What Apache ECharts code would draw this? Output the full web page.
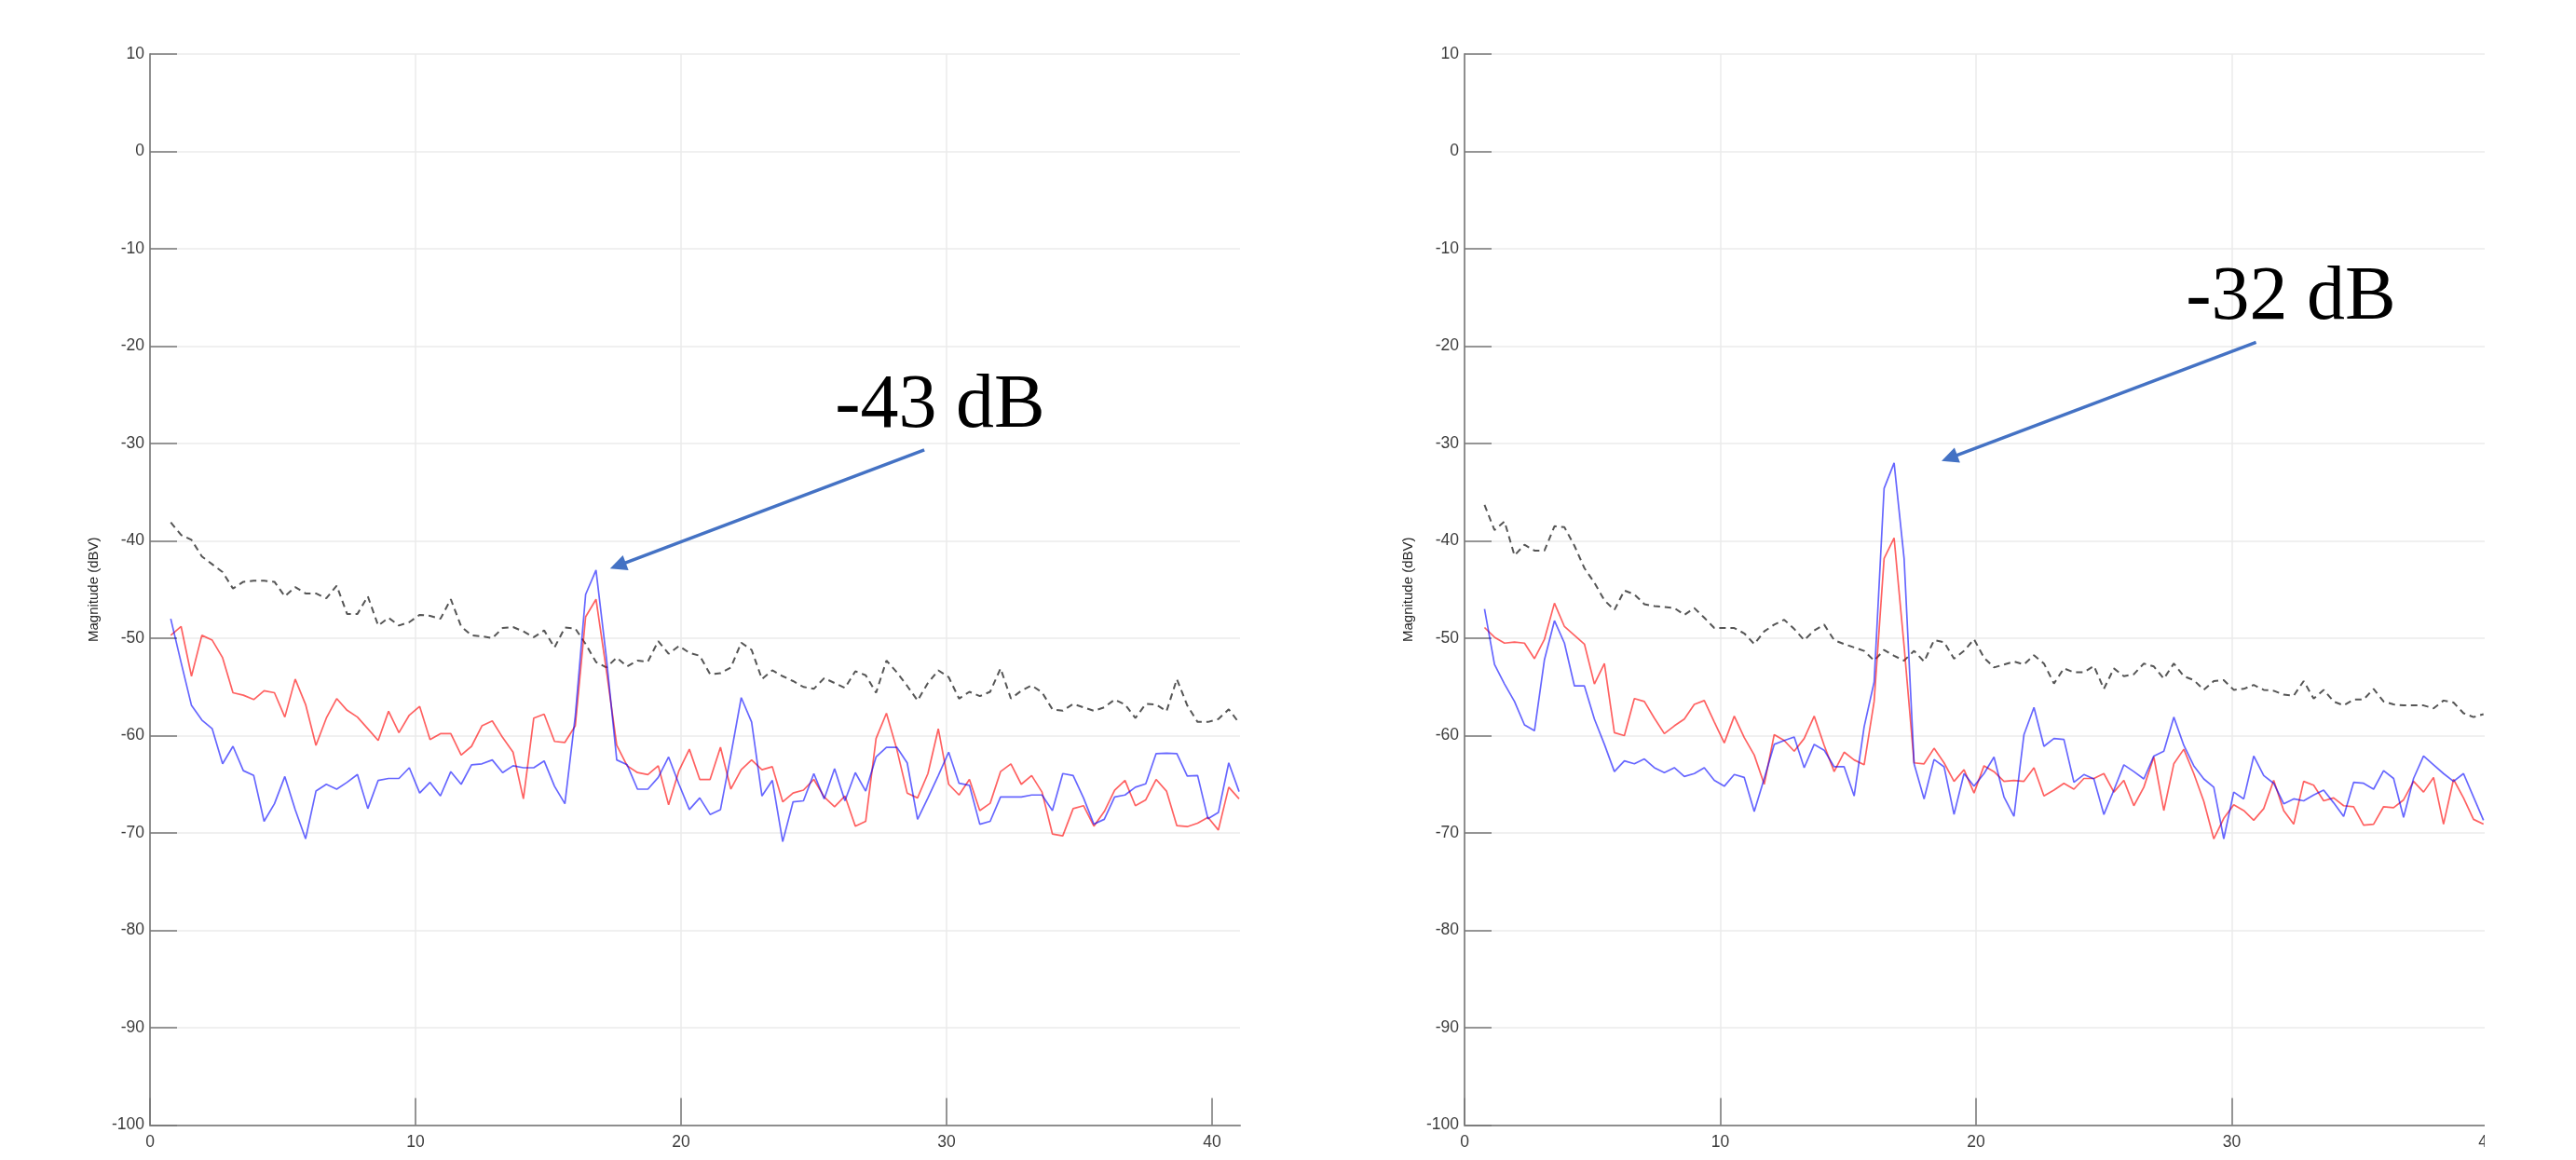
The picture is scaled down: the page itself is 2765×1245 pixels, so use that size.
<!DOCTYPE html>
<html><head><meta charset="utf-8">
<script src="https://cdn.jsdelivr.net/npm/echarts@6/dist/echarts.min.js"></script>
<style>html,body{margin:0;padding:0;background:#fff}#c{width:2765px;height:1245px}</style>
</head><body><div id="c"></div>
<script>
// FFT bin spacing (Hz) and first plotted bin
const binWidth = 0.390625;
const firstBin = 2;
const xTickValues = [0, 10, 20, 30, 40];
const yAxisName = 'Magnitude (dBV)';
const leftPeakLabel = '-43 dB';
const rightPeakLabel = '-32 dB';

// Left panel
const leftRed = [-49.7,-48.8,-53.9,-49.7,-50.2,-52.0,-55.6,-55.85,-56.3,-55.4,-55.6,-58.1,-54.2,-56.8,-61.0,-58.2,-56.2,-57.4,-58.1,-59.3,-60.5,-57.5,-59.7,-57.9,-57.0,-60.4,-59.8,-59.8,-62.0,-61.1,-59.0,-58.5,-60.2,-61.7,-66.5,-58.2,-57.8,-60.6,-60.7,-59.0,-47.8,-46.0,-53.3,-61.0,-63.1,-63.8,-64.0,-63.1,-67.1,-63.6,-61.4,-64.5,-64.5,-61.2,-65.5,-63.5,-62.5,-63.5,-63.2,-66.8,-65.9,-65.6,-64.5,-66.3,-67.3,-66.2,-69.3,-68.8,-60.3,-57.7,-61.4,-65.9,-66.4,-63.9,-59.3,-65.0,-66.1,-64.5,-67.7,-66.95,-63.7,-62.9,-65.0,-64.1,-65.8,-70.1,-70.3,-67.5,-67.2,-69.3,-67.8,-65.6,-64.6,-67.2,-66.6,-64.5,-65.7,-69.25,-69.35,-69.0,-68.4,-69.7,-65.3,-66.5];
const leftBlue = [-48.0,-52.5,-56.9,-58.4,-59.3,-62.9,-61.1,-63.6,-64.1,-68.8,-67.0,-64.2,-67.6,-70.6,-65.7,-65.0,-65.5,-64.8,-64.0,-67.5,-64.6,-64.4,-64.4,-63.3,-65.9,-64.8,-66.2,-63.7,-65.0,-63.0,-62.9,-62.5,-63.8,-63.1,-63.3,-63.3,-62.6,-65.2,-67.0,-58.0,-45.5,-43.0,-52.0,-62.5,-63.0,-65.5,-65.5,-64.3,-62.2,-65.0,-67.6,-66.4,-68.1,-67.6,-62.0,-56.1,-58.6,-66.2,-64.6,-70.9,-66.8,-66.7,-63.9,-66.5,-63.4,-66.7,-63.8,-65.7,-62.2,-61.2,-61.2,-62.8,-68.6,-66.4,-64.1,-61.7,-64.9,-65.1,-69.1,-68.8,-66.3,-66.3,-66.3,-66.1,-66.1,-67.7,-63.9,-64.1,-66.4,-69.1,-68.6,-66.3,-66.1,-65.3,-64.95,-61.85,-61.8,-61.85,-64.15,-64.1,-68.55,-67.9,-62.8,-65.75];
const leftRef = [-38.1,-39.4,-39.9,-41.6,-42.4,-43.2,-44.9,-44.2,-44.1,-44.1,-44.2,-45.7,-44.75,-45.4,-45.4,-45.9,-44.6,-47.5,-47.5,-45.7,-48.7,-47.9,-48.7,-48.35,-47.6,-47.7,-48.0,-46.0,-48.8,-49.7,-49.8,-50.0,-48.95,-48.85,-49.3,-49.9,-49.2,-50.95,-48.9,-49.0,-50.6,-52.45,-53.0,-52.0,-52.9,-52.3,-52.4,-50.3,-51.6,-50.8,-51.5,-51.8,-53.7,-53.6,-53.0,-50.45,-51.2,-54.2,-53.3,-53.9,-54.4,-55.0,-55.2,-54.1,-54.6,-55.1,-53.4,-53.8,-55.6,-52.3,-53.5,-54.9,-56.4,-54.6,-53.3,-54.0,-56.2,-55.5,-55.95,-55.5,-53.1,-56.2,-55.4,-54.85,-55.55,-57.3,-57.45,-56.75,-57.1,-57.45,-57.1,-56.3,-56.8,-58.2,-56.75,-56.8,-57.5,-54.2,-56.9,-58.6,-58.6,-58.3,-57.3,-58.7];

// Right panel
const rightRed = [-48.9,-49.9,-50.5,-50.4,-50.5,-52.1,-50.1,-46.4,-48.8,-49.7,-50.6,-54.7,-52.6,-59.7,-60.0,-56.2,-56.5,-58.2,-59.8,-59.0,-58.3,-56.8,-56.4,-58.6,-60.75,-58.0,-60.2,-62.0,-65.0,-59.9,-60.5,-61.6,-60.3,-58.0,-61.0,-63.7,-61.7,-62.5,-63.0,-56.5,-41.8,-39.7,-50.8,-62.8,-62.9,-61.3,-62.8,-64.7,-63.5,-65.9,-63.1,-63.7,-64.7,-64.6,-64.7,-63.3,-66.2,-65.6,-64.9,-65.5,-64.4,-64.4,-63.9,-65.8,-64.6,-67.2,-65.3,-62.2,-67.7,-62.9,-61.4,-63.9,-66.75,-70.6,-68.5,-67.1,-67.7,-68.7,-67.5,-64.6,-67.7,-69.1,-64.7,-65.1,-66.7,-66.4,-67.2,-67.3,-69.2,-69.1,-67.3,-67.4,-66.6,-64.7,-65.8,-64.3,-69.1,-64.5,-66.4,-68.6,-69.1];
const rightBlue = [-47.0,-52.7,-54.7,-56.5,-58.9,-59.5,-52.2,-48.2,-50.5,-54.9,-54.9,-58.3,-60.9,-63.7,-62.6,-62.9,-62.4,-63.3,-63.8,-63.3,-64.2,-63.9,-63.3,-64.6,-65.2,-64.0,-64.3,-67.8,-64.4,-60.9,-60.5,-60.15,-63.3,-60.9,-61.5,-63.2,-63.2,-66.2,-59.1,-54.5,-34.6,-32.0,-41.8,-62.9,-66.5,-62.45,-63.2,-68.1,-63.9,-65.2,-63.9,-62.2,-66.3,-68.3,-59.9,-57.1,-61.1,-60.3,-60.4,-64.8,-64.0,-64.45,-68.1,-65.6,-63.0,-63.7,-64.45,-62.1,-61.6,-58.1,-61.0,-63.1,-64.45,-65.3,-70.6,-65.8,-66.5,-62.1,-64.1,-64.9,-67.0,-66.5,-66.7,-66.1,-65.6,-66.9,-68.3,-64.8,-64.9,-65.5,-63.6,-64.4,-68.4,-64.4,-62.1,-63.0,-63.9,-64.7,-63.9,-66.3,-68.7];
const rightRef = [-36.3,-38.9,-38.0,-41.5,-40.4,-41.0,-41.0,-38.5,-38.6,-40.5,-42.8,-44.3,-46.1,-47.1,-45.1,-45.5,-46.5,-46.7,-46.8,-46.9,-47.6,-46.9,-47.9,-48.95,-48.95,-48.95,-49.5,-50.6,-49.3,-48.6,-48.1,-49.05,-50.2,-49.2,-48.6,-50.2,-50.6,-50.95,-51.3,-52.3,-51.2,-51.8,-52.3,-51.3,-52.4,-50.2,-50.4,-52.1,-51.3,-50.1,-52.0,-53.0,-52.7,-52.4,-52.7,-51.75,-52.6,-54.65,-53.1,-53.5,-53.5,-52.85,-55.2,-53.1,-53.9,-53.7,-52.6,-52.9,-54.15,-52.6,-53.9,-54.3,-55.3,-54.4,-54.3,-55.3,-55.2,-54.8,-55.3,-55.4,-55.8,-55.9,-54.4,-56.2,-55.3,-56.5,-56.9,-56.3,-56.3,-55.2,-56.5,-56.8,-56.9,-56.9,-56.9,-57.2,-56.4,-56.6,-57.7,-58.1,-57.8];

// Annotation anchors (data coordinates)
const leftLabelAt = [29.75, -26.2];
const leftArrowFrom = [29.16, -30.65];
const leftArrowTo = [17.62, -42.55];
const rightLabelAt = [32.31, -15.15];
const rightArrowFrom = [30.95, -19.6];
const rightArrowTo = [18.96, -31.5];

function toPairs(vals) {
  return vals.map((v, k) => [(firstBin + k) * binWidth, v]);
}

const chart = echarts.init(document.getElementById('c'), null, {renderer: 'canvas'});

const axisGray = '#8e8e8e';
const textGray = '#3c3c3c';
const gridGray = '#ebebeb';
const tickFont = 'Liberation Sans, Arial, sans-serif';

function xAxisCfg(gi, max) {
  return {
    type: 'value', gridIndex: gi, min: 0, max: max, interval: 10,
    axisLine: {show: true, onZero: false, lineStyle: {color: axisGray, width: 2}},
    axisTick: {show: true, inside: true, length: 29, customValues: xTickValues, lineStyle: {color: '#777', width: 1.5}},
    axisLabel: {show: true, customValues: xTickValues, color: textGray, fontSize: 17.5, fontFamily: tickFont, margin: 10, showMaxLabel: true, showMinLabel: true},
    splitLine: {show: true, showMinLine: false, showMaxLine: false, lineStyle: {color: gridGray, width: 1.5}}
  };
}
function yAxisCfg(gi) {
  return {
    type: 'value', gridIndex: gi, min: -100, max: 10, interval: 10,
    name: yAxisName, nameLocation: 'middle', nameGap: 53,
    nameTextStyle: {color: '#262626', fontSize: 15, fontFamily: tickFont},
    axisLine: {show: true, onZero: false, lineStyle: {color: axisGray, width: 2}},
    axisTick: {show: true, inside: true, length: 29, lineStyle: {color: '#777', width: 1.5}},
    axisLabel: {show: true, color: textGray, fontSize: 17.5, fontFamily: tickFont, margin: 6},
    splitLine: {show: true, showMinLine: false, lineStyle: {color: gridGray, width: 1.5}}
  };
}

function lineSeries(gi, vals, color, dashed, extra) {
  const s = {
    type: 'line', xAxisIndex: gi, yAxisIndex: gi,
    data: toPairs(vals), showSymbol: false, symbol: 'none', animation: false, silent: true,
    lineStyle: {color: color, width: dashed ? 2 : 1.7, type: dashed ? [7, 5] : 'solid'},
    z: dashed ? 2 : 3
  };
  return Object.assign(s, extra || {});
}

function annotation(labelAt, text, from, to) {
  return {
    markPoint: {
      silent: true, animation: false,
      symbol: 'circle', symbolSize: 1, itemStyle: {color: 'rgba(0,0,0,0)'},
      label: {show: true, position: 'inside', formatter: text, color: '#000', fontSize: 82,
              fontFamily: 'Liberation Serif, Times New Roman, serif'},
      data: [{coord: labelAt}]
    },
    markLine: {
      silent: true, animation: false,
      symbol: ['none', 'triangle'], symbolSize: [17, 18],
      lineStyle: {color: '#4472C4', width: 3.5, type: 'solid'},
      label: {show: false},
      data: [[{coord: from}, {coord: to}]]
    }
  };
}

chart.setOption({
  animation: false,
  backgroundColor: '#fff',
  grid: [
    {left: 161, top: 58, width: 1170, height: 1149.5},
    {left: 1572, top: 58, width: 1098, height: 1149.5}
  ],
  xAxis: [xAxisCfg(0, 41.05), xAxisCfg(1, 40)],
  yAxis: [yAxisCfg(0), yAxisCfg(1)],
  series: [
    lineSeries(0, leftRef, '#555555', true),
    lineSeries(0, leftRed, 'rgba(255,0,0,0.62)', false),
    lineSeries(0, leftBlue, 'rgba(0,0,255,0.6)', false, annotation(leftLabelAt, leftPeakLabel, leftArrowFrom, leftArrowTo)),
    lineSeries(1, rightRef, '#555555', true),
    lineSeries(1, rightRed, 'rgba(255,0,0,0.62)', false),
    lineSeries(1, rightBlue, 'rgba(0,0,255,0.6)', false, annotation(rightLabelAt, rightPeakLabel, rightArrowFrom, rightArrowTo))
  ],
  graphic: [
    {type: 'rect', left: 2667, top: 0, z: 100, shape: {width: 98, height: 1245}, style: {fill: '#fff'}}
  ]
});
</script></body></html>
